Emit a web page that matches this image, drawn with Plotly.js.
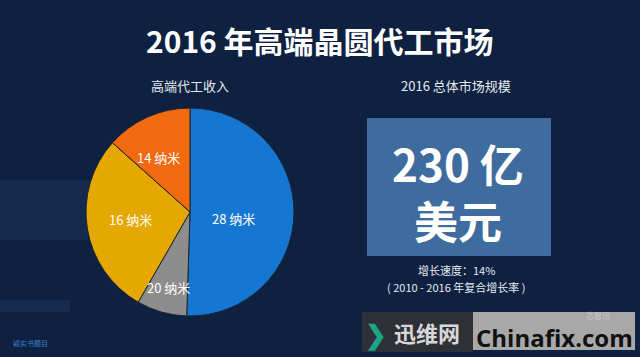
<!DOCTYPE html>
<html>
<head>
<meta charset="utf-8">
<script src="https://cdn.plot.ly/plotly-3.0.1.min.js"></script>
<style>
html,body{margin:0;padding:0;background:#0f2140;}
#chart{width:640px;height:357px;}
</style>
</head>
<body>
<div id="chart"></div>
<script>
// Data
const categories = ["28 纳米", "20 纳米", "16 纳米", "14 纳米"];
const shares = [50.5, 7.8, 28.3, 13.4];
const sliceColors = ["#1677d2", "#8d8d8d", "#e5a800", "#f26a10"];
const chartTitle = "2016 年高端晶圆代工市场";
const pieTitle = "高端代工收入";
const marketTitle = "2016 总体市场规模";
const marketValue = "230 亿";
const marketUnit = "美元";
const growthLine1 = "增长速度：14%";
const growthLine2 = "( 2010 - 2016 年复合增长率 )";

const FONT = "'Noto Sans CJK SC', 'Noto Sans', sans-serif";

// label positions (pixels from top-left) for pie slice labels
const labelPos = [[233, 218], [168, 287], [130, 219], [158, 157]];

const trace = {
  type: "pie",
  labels: categories,
  values: shares,
  sort: false,
  direction: "clockwise",
  rotation: 0,
  textinfo: "none",
  hoverinfo: "label+percent",
  marker: {colors: sliceColors, line: {color: "#1b2433", width: 1}},
  domain: {x: [86/640, 294/640], y: [41/357, 249/357]},
  showlegend: false
};

function ann(text, px, py, size, color, family) {
  return {text: text, x: px/640, y: 1-py/357, xref: "paper", yref: "paper",
    xanchor: "center", yanchor: "middle", showarrow: false,
    font: {family: family || FONT, size: size, color: color}};
}

const annotations = [
  ann("<b>" + chartTitle + "</b>", 320, 40, 30, "#ffffff"),
  ann(pieTitle, 190, 85, 13, "#e6ebf2"),
  ann(marketTitle, 456, 85, 13, "#e6ebf2"),
  ann("<b>" + marketValue + "</b><br><b>" + marketUnit + "</b>", 458, 191, 44, "#ffffff"),
  ann(growthLine1, 456, 270, 11, "#e6ebf2"),
  ann(growthLine2, 456, 287, 11, "#e6ebf2"),
  ann("颖实书题目", 30, 343, 7, "#3d7fc8"),
  ann("<b>❯</b>", 376, 332, 26, "#18a588"),
  ann("<b>迅维网</b>", 427, 332, 22, "#d8d8d8"),
  ann("<b>Chinafix.com</b>", 554, 337, 24, "#111111", "'Open Sans', 'DejaVu Sans', sans-serif"),
  ann("芯智讯", 598, 315, 8, "#c8c8c8")
];

categories.forEach((c, i) => {
  annotations.push(ann(c, labelPos[i][0], labelPos[i][1], 13, "#ffffff"));
});

const shapes = [
  // left faint streaks
  {type: "rect", xref: "paper", yref: "paper", x0: 0, x1: 95/640, y0: 1-240/357, y1: 1-180/357,
   fillcolor: "rgba(60,110,170,0.12)", line: {width: 0}, layer: "below"},
  {type: "rect", xref: "paper", yref: "paper", x0: 0, x1: 70/640, y0: 1-312/357, y1: 1-300/357,
   fillcolor: "rgba(60,110,170,0.15)", line: {width: 0}, layer: "below"},
  // market box
  {type: "rect", xref: "paper", yref: "paper", x0: 367/640, x1: 551/640, y0: 1-256/357, y1: 1-118/357,
   fillcolor: "#3e6c9e", line: {width: 0}},
  // watermark boxes
  {type: "rect", xref: "paper", yref: "paper", x0: 362/640, x1: 473/640, y0: 1-352/357, y1: 1-312/357,
   fillcolor: "#2d3036", line: {width: 0}},
  {type: "rect", xref: "paper", yref: "paper", x0: 473/640, x1: 635/640, y0: 1-350/357, y1: 1-312/357,
   fillcolor: "#a8a8a8", line: {width: 0}}
];

const layout = {
  width: 640, height: 357,
  margin: {l: 0, r: 0, t: 0, b: 0},
  paper_bgcolor: "#0f2140",
  plot_bgcolor: "#0f2140",
  annotations: annotations,
  shapes: shapes,
  font: {family: FONT}
};

Plotly.newPlot("chart", [trace], layout, {displayModeBar: false, staticPlot: true});
</script>
</body>
</html>
